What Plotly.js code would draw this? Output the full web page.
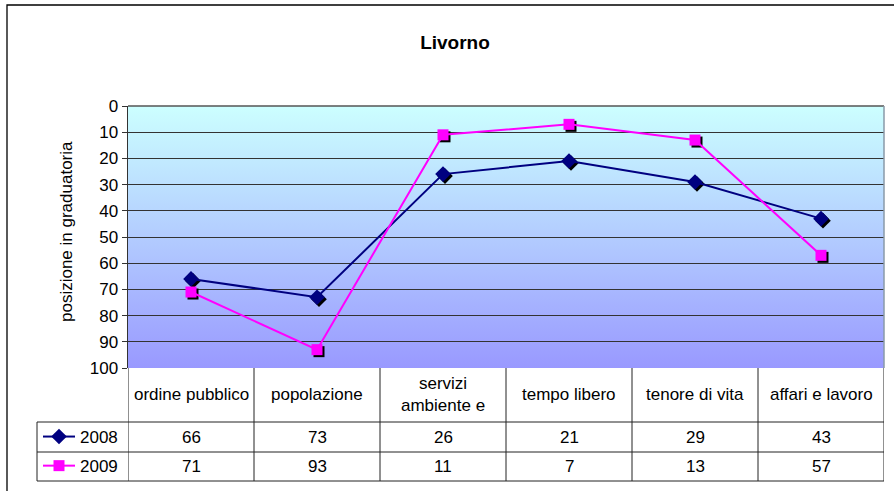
<!DOCTYPE html>
<html>
<head>
<meta charset="utf-8">
<script src="https://cdn.plot.ly/plotly-3.0.1.min.js"></script>
<style>html,body{margin:0;padding:0;background:#fff;}#chart{width:894px;height:491px;}</style>
</head>
<body>
<div id="chart"></div>
<script>
// ---- data ----
const categories = ["ordine pubblico","popolazione","servizi ambiente e","tempo libero","tenore di vita","affari e lavoro"];
const headerLabels = ["ordine pubblico","popolazione","servizi<br>ambiente e","tempo libero","tenore di vita","affari e lavoro"];
const seriesNames = ["2008","2009"];
const values2008 = [66, 73, 26, 21, 29, 43];
const values2009 = [71, 93, 11, 7, 13, 57];
const yTicks = [0,10,20,30,40,50,60,70,80,90,100];

// ---- geometry helpers (pixel -> paper) ----
const W = 894, H = 491;
const ML = 128, MR = 8, MT = 106, MB = 121;
const PW = W - ML - MR, PH = H - MT - MB;
const px = v => (v - ML) / PW;
const py = v => (H - MB - v) / PH;
const shift = 2;

const FONT = "Liberation Sans, Arial, sans-serif";
const FS = 17;
const navy = "#000080", magenta = "#FF00FF";

const traces = [
  // shadows
  {x: categories, y: values2008, xaxis: "x2", yaxis: "y2", mode: "markers", showlegend: false, hoverinfo: "skip",
   marker: {symbol: "diamond", size: 12, color: "#000"}},
  {x: categories, y: values2009, xaxis: "x2", yaxis: "y2", mode: "markers", showlegend: false, hoverinfo: "skip",
   marker: {symbol: "square", size: 11, color: "#000"}},
  // main
  {x: categories, y: values2008, xaxis: "x3", yaxis: "y3", name: seriesNames[0], legendgroup: "a", mode: "lines+markers",
   line: {color: navy, width: 2}, marker: {symbol: "diamond", size: 12, color: navy}},
  {x: categories, y: values2009, xaxis: "x3", yaxis: "y3", name: seriesNames[1], legendgroup: "b", mode: "lines+markers",
   line: {color: magenta, width: 2}, marker: {symbol: "square", size: 11, color: magenta}}
];

const mainXDom = [0, 1 - shift / PW];
const mainYDom = [shift / PH, 1];
const shadowXDom = [shift / PW, 1];
const shadowYDom = [0, 1 - shift / PH];

const hidden = {visible: false, showgrid: false, zeroline: false, fixedrange: true};

const svg = "<svg xmlns='http://www.w3.org/2000/svg' width='10' height='100' preserveAspectRatio='none'>" +
  "<defs><linearGradient id='g' x1='0' y1='0' x2='0' y2='1'>" +
  "<stop offset='0' stop-color='#CCFFFF'/><stop offset='1' stop-color='#9999FF'/></linearGradient></defs>" +
  "<rect width='10' height='100' fill='url(#g)'/></svg>";

const tableTop = py(368), row1 = py(422), row2 = py(452), row3 = py(481);
const leftEdge = px(37), rightEdge = mainXDom[1];

const shapes = [];
// outer border
shapes.push({type: "rect", xref: "paper", yref: "paper", x0: px(7), x1: px(900), y0: py(497), y1: py(5),
  line: {color: "#000", width: 1.3}, fillcolor: "rgba(0,0,0,0)"});
// plot area top & right border
shapes.push({type: "line", xref: "paper", yref: "paper", x0: 0, x1: rightEdge, y0: 1, y1: 1, line: {color: "#555", width: 1.5}});
shapes.push({type: "line", xref: "paper", yref: "paper", x0: rightEdge, x1: rightEdge, y0: mainYDom[0], y1: 1, line: {color: "#8a9aa8", width: 1.5}});
// table horizontal lines
[row1, row2, row3].forEach(yv => shapes.push({type: "line", xref: "paper", yref: "paper", x0: leftEdge, x1: rightEdge, y0: yv, y1: yv, line: {color: "#222", width: 1}}));
// table vertical lines on category boundaries
for (let i = 0; i <= categories.length; i++) {
  shapes.push({type: "line", xref: "x", yref: "paper", x0: i - 0.5, x1: i - 0.5, y0: mainYDom[0], y1: row3, line: {color: "#222", width: 1}});
}
// legend column left edge
shapes.push({type: "line", xref: "paper", yref: "paper", x0: leftEdge, x1: leftEdge, y0: row1, y1: row3, line: {color: "#222", width: 1}});

const annotations = [];
const tf = {family: FONT, size: FS, color: "#000"};
headerLabels.forEach((t, i) => annotations.push({xref: "x", yref: "paper", x: categories[i], y: (tableTop + row1) / 2 + shift / PH / 2,
  text: t, showarrow: false, font: tf, xanchor: "center", yanchor: "middle"}));
values2008.forEach((v, i) => annotations.push({xref: "x", yref: "paper", x: categories[i], y: (row1 + row2) / 2,
  text: String(v), showarrow: false, font: tf, xanchor: "center", yanchor: "middle"}));
values2009.forEach((v, i) => annotations.push({xref: "x", yref: "paper", x: categories[i], y: (row2 + row3) / 2,
  text: String(v), showarrow: false, font: tf, xanchor: "center", yanchor: "middle"}));
// y axis title
annotations.push({xref: "paper", yref: "paper", x: px(66), y: py(232), text: "posizione in graduatoria", textangle: -90,
  showarrow: false, font: tf, xanchor: "center", yanchor: "middle"});

const layout = {
  width: W, height: H,
  margin: {l: ML, r: MR, t: MT, b: MB, pad: 0, autoexpand: false},
  paper_bgcolor: "#fff", plot_bgcolor: "rgba(0,0,0,0)",
  title: {text: "<b>Livorno</b>", font: {family: FONT, size: 19, color: "#000"}, xref: "container", x: 455 / W, xanchor: "center",
    yref: "container", y: 1 - 42 / H, yanchor: "middle"},
  font: {family: FONT, size: FS, color: "#000"},
  xaxis: {domain: mainXDom, range: [-0.5, 5.5], type: "category", categoryarray: categories, showticklabels: false,
    showgrid: false, zeroline: false, ticks: "", showline: false, fixedrange: true, anchor: "y"},
  yaxis: {domain: mainYDom, range: [100, 0], tickvals: yTicks, ticktext: yTicks.map(String), showgrid: true, gridcolor: "#333", gridwidth: 1,
    zeroline: false, showline: true, linecolor: "#333", linewidth: 1.5, ticks: "outside", ticklen: 5, tickcolor: "#333",
    tickfont: {family: FONT, size: FS, color: "#000"}, fixedrange: true, anchor: "x"},
  xaxis2: Object.assign({domain: shadowXDom, range: [-0.5, 5.5], type: "category", categoryarray: categories, anchor: "y2"}, hidden),
  yaxis2: Object.assign({domain: shadowYDom, range: [100, 0], anchor: "x2"}, hidden),
  xaxis3: Object.assign({domain: mainXDom, range: [-0.5, 5.5], type: "category", categoryarray: categories, anchor: "y3"}, hidden),
  yaxis3: Object.assign({domain: mainYDom, range: [100, 0], anchor: "x3"}, hidden),
  images: [{source: "data:image/svg+xml;charset=utf-8," + encodeURIComponent(svg), xref: "paper", yref: "paper",
    x: 0, y: 1, sizex: mainXDom[1], sizey: 1 - mainYDom[0], xanchor: "left", yanchor: "top", sizing: "stretch", layer: "below"}],
  shapes: shapes,
  annotations: annotations,
  showlegend: true,
  legend: {x: px(38), y: row1 + 3 / PH, xanchor: "left", yanchor: "top", bgcolor: "rgba(0,0,0,0)", borderwidth: 0,
    font: {family: FONT, size: FS, color: "#000"}, traceorder: "grouped", tracegroupgap: 4, itemwidth: 32}
};

Plotly.newPlot("chart", traces, layout, {displayModeBar: false, staticPlot: true});
</script>
</body>
</html>
